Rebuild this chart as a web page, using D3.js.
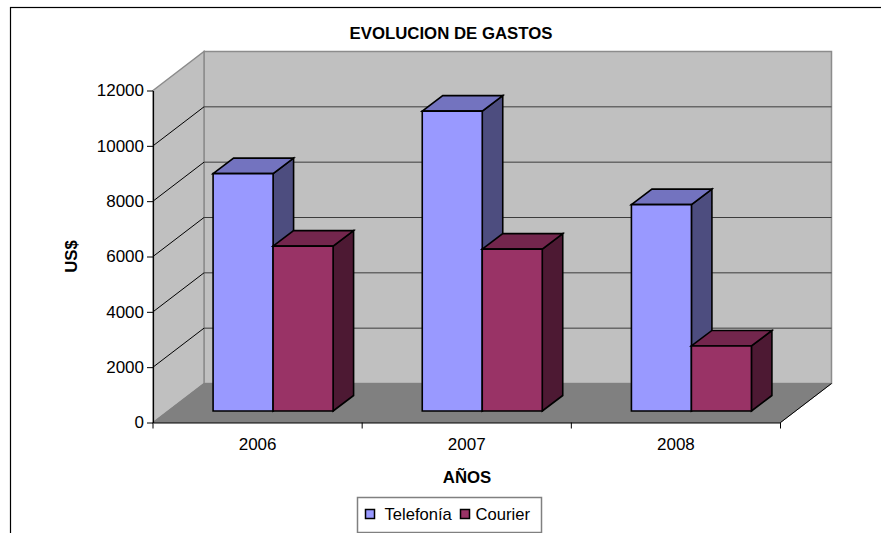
<!DOCTYPE html>
<html><head><meta charset="utf-8">
<script src="https://cdn.jsdelivr.net/npm/d3@7/dist/d3.min.js"></script>
<style>html,body{margin:0;padding:0;background:#fff}svg{display:block}text{font-family:"Liberation Sans",Arial,sans-serif;fill:#000}</style>
</head><body><svg id="c" width="881" height="533"></svg>
<script>
const categories = ["2006","2007","2008"];
const seriesNames = ["Telefonía","Courier"];
const telefonia = [8580,10840,7460];
const courier = [5960,5850,2350];
const yTicks = [0,2000,4000,6000,8000,10000,12000];

const svg = d3.select("#c");
const x = d3.scaleBand().domain(categories).range([153,780.5]);
const y = d3.scaleLinear().domain([0,12000]).range([422.5,90.5]);
const wall = {dx:51,dy:-39}, bar = {dx:20.5,dy:-15.5}, inset = {dx:15.5,dy:-11.5};
const barW = 60;

svg.append("rect").attr("x",10.5).attr("y",7.5).attr("width",880).attr("height",540)
  .attr("fill","#fff").attr("stroke","#000").attr("stroke-width",1.2);

const line = d3.line();
const poly = (pts,fill,stroke,sw)=>svg.append("path").attr("d",line(pts)+"Z").attr("fill",fill)
  .attr("stroke",stroke||"none").attr("stroke-width",sw||1).attr("stroke-linejoin","miter");

const x0=x.range()[0], x1=x.range()[1], yb=y(0), yt=y(12000);
// back wall, side wall, floor
poly([[x0+wall.dx,yt+wall.dy],[x1+wall.dx,yt+wall.dy],[x1+wall.dx,yb+wall.dy],[x0+wall.dx,yb+wall.dy]],"#c0c0c0","#8c8c8c",1.5);
poly([[x0,yt],[x0+wall.dx,yt+wall.dy],[x0+wall.dx,yb+wall.dy],[x0,yb]],"#c0c0c0","#8c8c8c",1.5);
poly([[x0,yb],[x0+wall.dx,yb+wall.dy],[x1+wall.dx,yb+wall.dy],[x1,yb]],"#808080","#808080",1);
svg.append("path").attr("d",line([[x1,yb],[x1+wall.dx,yb+wall.dy]])).attr("stroke","#000").attr("fill","none");

// gridlines
yTicks.filter(t=>t>0&&t<12000).forEach(t=>{
  svg.append("path").attr("d",line([[x0,y(t)],[x0+wall.dx,y(t)+wall.dy]])).attr("stroke","#000").attr("fill","none");
  svg.append("path").attr("d",line([[x0+wall.dx,y(t)+wall.dy],[x1+wall.dx,y(t)+wall.dy]])).attr("stroke","#3c3c3c").attr("fill","none");
});

// bars
const series=[
 {vals:telefonia,front:"#9999ff",top:"#7373bf",side:"#4d4d7f",offset:0},
 {vals:courier,front:"#993366",top:"#73264d",side:"#4d1933",offset:1}];
categories.forEach((c,i)=>{
  const left=x(c)+(x.bandwidth()-2*barW)/2+inset.dx;
  const base=yb+inset.dy;
  series.forEach(s=>{
    const l=left+s.offset*barW, r=l+barW;
    const tp=y(s.vals[i])+inset.dy;
    poly([[r,base],[r+bar.dx,base+bar.dy],[r+bar.dx,tp+bar.dy],[r,tp]],s.side,"#000",1.6);
    poly([[l,tp],[l+bar.dx,tp+bar.dy],[r+bar.dx,tp+bar.dy],[r,tp]],s.top,"#000",1.6);
    poly([[l,base],[l,tp],[r,tp],[r,base]],s.front,"#000",1.6);
  });
});

// axes
const yAxis=svg.append("g").attr("transform",`translate(${x0},0)`).call(d3.axisLeft(y).tickValues(yTicks).tickFormat(d3.format("d")).tickSize(6).tickSizeOuter(0));
const xAxis=svg.append("g").attr("transform",`translate(0,${yb})`).call(d3.axisBottom(x).tickSize(0).tickSizeOuter(0));
[yAxis,xAxis].forEach(g=>{g.selectAll("text").attr("font-size",17).style("font-family",'"Liberation Sans",Arial,sans-serif').attr("fill","#000");g.select(".domain").attr("stroke","#000").attr("stroke-width",1.2);g.selectAll("line").attr("stroke","#000");});
yAxis.selectAll("text").attr("x",-9);
xAxis.selectAll("text").attr("y",27).attr("dy",0);
const edges=[...categories.map(c=>x(c)),x1];
svg.append("g").selectAll("line").data(edges).join("line").attr("x1",d=>d).attr("x2",d=>d).attr("y1",yb).attr("y2",yb+6).attr("stroke","#000");

// titles
const label=(t,px,py,rot)=>svg.append("text").text(t).attr("text-anchor","middle").attr("font-size",16.8).attr("font-weight","bold")
  .attr("transform",`translate(${px},${py})`+(rot?` rotate(${rot})`:""));
label("EVOLUCION DE GASTOS",451,39.3);
label("AÑOS",467,483.3);
label("US$",76.5,256.5,-90);

// legend
svg.append("rect").attr("x",357.5).attr("y",497.5).attr("width",184).attr("height",35).attr("fill","#fff").attr("stroke","#808080").attr("stroke-width",1.5);
const swatchX=[365,460], textX=[384.5,475.5];
seriesNames.forEach((n,i)=>{
  svg.append("rect").attr("x",swatchX[i]+.5).attr("y",509.5).attr("width",9).attr("height",9).attr("fill",series[i].front).attr("stroke","#000").attr("stroke-width",1.5);
  svg.append("text").text(n).attr("x",textX[i]).attr("y",520).attr("font-size",16.6);
});
</script></body></html>
